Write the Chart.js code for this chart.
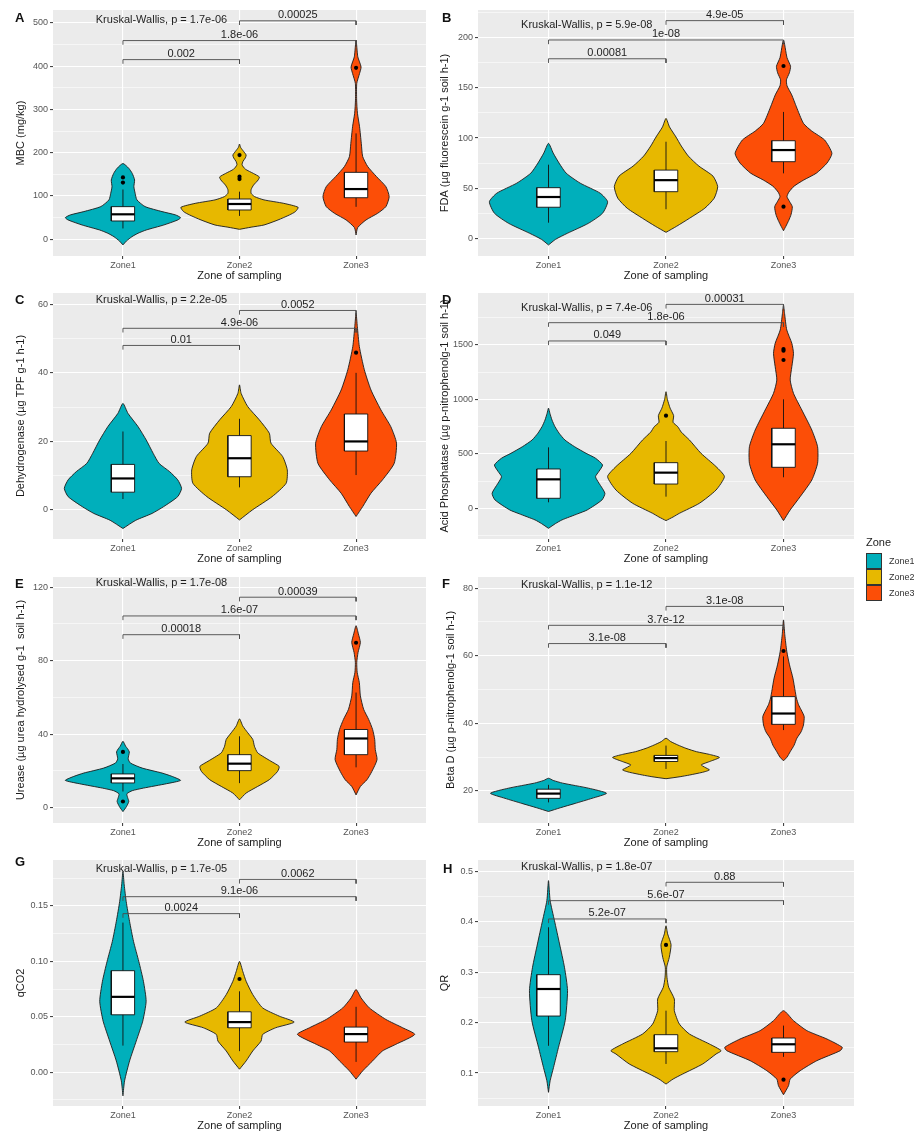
<!DOCTYPE html>
<html>
<head>
<meta charset="utf-8">
<script src="https://cdn.jsdelivr.net/npm/chart.js@4.4.1/dist/chart.umd.min.js"></script>
<style>
  body { margin: 0; background: #fff; width: 914px; height: 1137px; position: relative; overflow: hidden;
         font-family: "Liberation Sans", Arial, sans-serif; }
  canvas { position: absolute; }
  .tag { position: absolute; font-weight: bold; font-size: 13px; line-height: 13px; color: #111; }
  .legend-title { position: absolute; left: 866px; top: 536px; font-size: 11px; color: #222; }
  .key { position: absolute; left: 866px; width: 14px; height: 14px; border: 1px solid #333; }
  .key-label { position: absolute; left: 889px; font-size: 9px; color: #333; line-height: 10px; }
</style>
</head>
<body>
<div id="root"></div>
<script>
// ---------- shared ----------
const zones = ['Zone1', 'Zone2', 'Zone3'];
const zoneColors = ['#00AFBB', '#E7B800', '#FC4E07'];
const xTitle = 'Zone of sampling';

// Violin profiles: [value, half-width in zone units]; boxes: [lower whisker, Q1, median, Q3, upper whisker]
// ---------- A: MBC ----------
const mbcZone1 = [[-13,0],[-4,0.03],[6,0.077],[14,0.13],[21.5,0.2],[33,0.35],[44.6,0.47],[50,0.494],[56.4,0.45],[64,0.335],[75.5,0.19],[91,0.12],[106,0.105],[121.5,0.094],[137,0.1],[152,0.08],[164,0.05],[175,0]];
const mbcZone2 = [[23,0],[28,0.1],[33,0.21],[44.6,0.33],[56.4,0.43],[64,0.48],[73.8,0.503],[83,0.38],[91,0.21],[98.5,0.13],[106,0.1],[115,0.1],[125,0.12],[137,0.16],[144,0.17],[152,0.12],[162,0.05],[172,0.022],[180,0.03],[188,0.05],[194.6,0.057],[203,0.035],[212,0.01],[220,0]];
const mbcZone3 = [[10,0],[27,0.014],[44.6,0.085],[60,0.185],[75.5,0.256],[98.5,0.284],[121.5,0.256],[144.6,0.176],[168,0.1],[191,0.057],[221.5,0.045],[260,0.03],[291,0.012],[321.5,0.005],[360,0.006],[383,0.03],[398,0.043],[421.5,0.015],[460,0]];
const mbcBoxes = [[25,42.3,57.7,75.4,115],[54,67.7,81.5,93,110],[75,96,116,154.6,244.6]];
const mbcOutliers = [[131,143],[139,144.6,194.6],[396]];
const mbcPairs = [[2,3,504.6,'0.00025'],[1,3,459,'1.8e-06'],[1,2,415,'0.002']];
const mbcMajor = [0,100,200,300,400,500];
const mbcLabels = ['0','100','200','300','400','500'];
const mbcMinor = [50,150,250,350,450];
const mbcLimits = [-38.6, 529.6];
const mbcKruskal = ['Kruskal-Wallis, p = 1.7e-06', 0.767, 507.7];

// ---------- B: FDA ----------
const fdaZone1 = [[-6.6,0],[-1,0.06],[5,0.16],[15,0.34],[25,0.46],[36.5,0.503],[45,0.44],[55,0.27],[65,0.15],[75,0.09],[85,0.04],[94.7,0]];
const fdaZone2 = [[6,0],[12,0.09],[20,0.2],[30,0.33],[40,0.41],[51.5,0.44],[62,0.4],[72,0.28],[82,0.19],[92,0.13],[101,0.085],[111,0.03],[119.6,0]];
const fdaZone3 = [[7.6,0],[12,0.02],[18,0.045],[24,0.065],[31.5,0.075],[37,0.05],[41.5,0.03],[46,0.045],[52,0.09],[58,0.17],[65,0.28],[75,0.37],[84.7,0.412],[98,0.35],[107,0.24],[114.6,0.17],[131,0.11],[143,0.07],[152,0.03],[158,0.025],[165,0.05],[171.5,0.06],[180,0.03],[197.7,0]];
const fdaBoxes = [[15.6,31,41.2,50.5,73.4],[29,46.5,58,68,96.3],[64.8,76.4,88,97.3,126]];
const fdaOutliers = [[],[],[31.6,171.8]];
const fdaPairs = [[2,3,217,'4.9e-05'],[1,3,197.7,'1e-08'],[1,2,179,'0.00081']];
const fdaMajor = [0,50,100,150,200];
const fdaLabels = ['0','50','100','150','200'];
const fdaMinor = [25,75,125,175,225];
const fdaLimits = [-17.6, 227.6];
const fdaKruskal = ['Kruskal-Wallis, p = 5.9e-08', 0.767, 212.6];

// ---------- C: Dehydrogenase ----------
const dhZone1 = [[-5.4,0],[-3,0.11],[-1,0.25],[1,0.35],[3.9,0.47],[6.3,0.503],[8.8,0.47],[11.2,0.4],[13.6,0.31],[16.5,0.26],[20.4,0.2],[24.3,0.13],[28.2,0.043],[31.1,0]];
const dhZone2 = [[-2.9,0],[0,0.11],[3.9,0.28],[7.8,0.4],[11.7,0.41],[15.6,0.37],[19.5,0.27],[22.4,0.256],[26.3,0.17],[30.2,0.07],[34,0.014],[36.5,0]];
const dhZone3 = [[-1.9,0],[1,0.057],[4.9,0.128],[8.8,0.227],[13.6,0.327],[19.5,0.347],[24.3,0.298],[29.2,0.213],[35,0.128],[40.9,0.071],[47.7,0.028],[53.5,0.011],[57.4,0]];
const dhBoxes = [[3.2,5.2,9.2,13.3,22.9],[6.6,9.7,15.1,21.7,26.6],[10.2,17.2,20,28,40]];
const dhOutliers = [[],[],[45.9]];
const dhPairs = [[2,3,58.2,'0.0052'],[1,3,53,'4.9e-06'],[1,2,48,'0.01']];
const dhMajor = [0,20,40,60];
const dhLabels = ['0','20','40','60'];
const dhMinor = [10,30,50];
const dhLimits = [-8.46, 63.3];
const dhKruskal = ['Kruskal-Wallis, p = 2.2e-05', 0.767, 61.3];

// ---------- D: Acid phosphatase ----------
const apZone1 = [[-184,0],[-140,0.06],[-107,0.114],[-50,0.25],[-15,0.33],[76.5,0.455],[138,0.48],[230,0.43],[290,0.4],[340,0.43],[398,0.46],[460,0.4],[505,0.32],[567,0.22],[627,0.14],[690,0.09],[750,0.055],[810,0.03],[872,0.012],[920,0]];
const apZone2 = [[-113,0],[-80,0.06],[-46,0.114],[46,0.284],[168,0.426],[291,0.497],[383,0.426],[505,0.298],[627,0.2],[700,0.13],[750,0.1],[790,0.06],[851,0.065],[920,0.035],[1000,0.012],[1071,0]];
const apZone3 = [[-113,0],[-15,0.057],[107,0.142],[260,0.241],[413,0.29],[566,0.29],[719,0.241],[903,0.156],[1056,0.085],[1178,0.057],[1301,0.071],[1423,0.085],[1515,0.071],[1638,0.028],[1790,0.009],[1867,0]];
const apBoxes = [[55,92,266,361,560],[107,223,327.5,419,618],[285,376.5,588,735,1001]];
const apOutliers = [[],[851],[1362,1448,1463]];
const apPairs = [[2,3,1873,'0.00031'],[1,3,1705,'1.8e-06'],[1,2,1537,'0.049']];
const apMajor = [0,500,1000,1500];
const apLabels = ['0','500','1000','1500'];
const apMinor = [-250,250,750,1250,1750];
const apLimits = [-282, 1977.6];
const apKruskal = ['Kruskal-Wallis, p = 7.4e-06', 0.767, 1836];

// ---------- E: Urease ----------
const urZone1 = [[-2.2,0],[0.5,0.03],[3.3,0.05],[5.5,0.04],[7.5,0.034],[9.2,0.08],[10.6,0.176],[13,0.375],[14.8,0.494],[17,0.42],[18.8,0.335],[21.5,0.165],[24.2,0.065],[26.4,0.045],[28.5,0.05],[30.3,0.055],[32,0.04],[33.4,0.023],[36.1,0]];
const urZone2 = [[4.2,0],[7.9,0.057],[11.5,0.156],[15.2,0.256],[19.7,0.327],[22.4,0.34],[25.2,0.27],[29.8,0.156],[33.4,0.128],[37.1,0.114],[40.7,0.071],[44.4,0.028],[48.3,0]];
const urZone3 = [[6.9,0],[11.5,0.037],[15.2,0.094],[19.7,0.136],[26.1,0.18],[31.6,0.165],[37.1,0.16],[42.5,0.142],[48,0.108],[53.5,0.065],[60.8,0.037],[68.1,0.028],[73.5,0.01],[79,0.006],[84.4,0.017],[89.9,0.037],[94.5,0.02],[99,0]];
const urBoxes = [[8.75,13.4,15.9,18.3,23.7],[13.3,20.1,23.9,28.8,38.8],[21.9,28.8,37.6,42.5,62.6]];
const urOutliers = [[3.3,30.3],[],[89.7]];
const urPairs = [[2,3,114.5,'0.00039'],[1,3,104.3,'1.6e-07'],[1,2,94.1,'0.00018']];
const urMajor = [0,40,80,120];
const urLabels = ['0','40','80','120'];
const urMinor = [20,60,100];
const urLimits = [-8.4, 125.5];
const urKruskal = ['Kruskal-Wallis, p = 1.7e-08', 0.767, 122.2];

// ---------- F: Beta D ----------
const bdZone1 = [[13.9,0],[15,0.1],[16.3,0.227],[17.8,0.37],[19.3,0.494],[20.8,0.341],[22.3,0.12],[23.1,0.04],[23.75,0]];
const bdZone2 = [[23.6,0],[24.2,0.12],[24.7,0.2],[25.5,0.31],[26.2,0.37],[27,0.33],[27.7,0.3],[28.8,0.38],[29.9,0.455],[30.8,0.37],[31.6,0.26],[32.6,0.17],[33.6,0.1],[34.6,0.04],[35.6,0]];
const bdZone3 = [[28.9,0],[30,0.03],[31.6,0.057],[33.5,0.09],[35.6,0.114],[37.5,0.15],[39.5,0.17],[42,0.176],[44,0.15],[45.5,0.128],[47.5,0.11],[49.4,0.1],[53.4,0.08],[57.3,0.051],[61.3,0.028],[66.2,0.011],[70.6,0]];
const bdBoxes = [[16.6,17.8,19.2,20.5,21.8],[26.5,28.7,29.7,30.5,33.4],[38,39.7,42.9,47.9,59.8]];
const bdOutliers = [[],[],[61.4]];
const bdPairs = [[2,3,74.6,'3.1e-08'],[1,3,69,'3.7e-12'],[1,2,63.6,'3.1e-08']];
const bdMajor = [20,40,60,80];
const bdLabels = ['20','40','60','80'];
const bdMinor = [30,50,70];
const bdLimits = [10.5, 83.3];
const bdKruskal = ['Kruskal-Wallis, p = 1.1e-12', 0.767, 81];

// ---------- G: qCO2 ----------
const qcZone1 = [[-0.0213,0],[-0.0078,0.014],[0.0102,0.057],[0.0281,0.114],[0.0461,0.17],[0.064,0.199],[0.082,0.176],[0.1,0.136],[0.118,0.091],[0.136,0.057],[0.154,0.028],[0.169,0.011],[0.181,0]];
const qcZone2 = [[0.0027,0],[0.0102,0.057],[0.0192,0.114],[0.0281,0.185],[0.0341,0.199],[0.0401,0.31],[0.0452,0.469],[0.0506,0.341],[0.058,0.199],[0.07,0.114],[0.082,0.057],[0.091,0.028],[0.1,0]];
const qcZone3 = [[-0.0063,0],[0.0012,0.057],[0.0102,0.142],[0.0192,0.227],[0.0251,0.34],[0.0341,0.503],[0.0401,0.4],[0.0476,0.256],[0.058,0.114],[0.067,0.043],[0.0746,0]];
const qcBoxes = [[0.024,0.0518,0.068,0.0916,0.135],[0.019,0.0401,0.0452,0.0545,0.073],[0.0093,0.0272,0.0344,0.0407,0.059]];
const qcOutliers = [[],[0.0841],[]];
const qcPairs = [[2,3,0.174,'0.0062'],[1,3,0.1584,'9.1e-06'],[1,2,0.1431,'0.0024']];
const qcMajor = [0,0.05,0.1,0.15];
const qcLabels = ['0.00','0.05','0.10','0.15'];
const qcMinor = [-0.025,0.025,0.075,0.125,0.175];
const qcLimits = [-0.0305, 0.1915];
const qcKruskal = ['Kruskal-Wallis, p = 1.7e-05', 0.767, 0.183];

// ---------- H: QR ----------
const qrZone1 = [[0.0617,0],[0.0848,0.014],[0.1112,0.043],[0.151,0.085],[0.204,0.142],[0.2633,0.162],[0.3096,0.136],[0.356,0.094],[0.402,0.051],[0.4418,0.014],[0.4815,0]];
const qrZone2 = [[0.078,0],[0.088,0.06],[0.098,0.142],[0.118,0.313],[0.1377,0.426],[0.1443,0.469],[0.1575,0.37],[0.1774,0.199],[0.197,0.114],[0.2236,0.071],[0.2468,0.071],[0.27,0.023],[0.29,0.008],[0.31,0.006],[0.3294,0.028],[0.3545,0.043],[0.3757,0.014],[0.392,0]];
const qrZone3 = [[0.057,0],[0.075,0.043],[0.088,0.057],[0.1046,0.142],[0.1245,0.284],[0.1443,0.483],[0.151,0.5],[0.1674,0.37],[0.184,0.199],[0.2038,0.085],[0.2236,0]];
const qrBoxes = [[0.154,0.213,0.2666,0.295,0.389],[0.118,0.1423,0.149,0.176,0.2236],[0.132,0.141,0.157,0.1694,0.194]];
const qrOutliers = [[],[0.354],[0.0868]];
const qrPairs = [[2,3,0.4782,'0.88'],[1,3,0.4418,'5.6e-07'],[1,2,0.4055,'5.2e-07']];
const qrMajor = [0.1,0.2,0.3,0.4,0.5];
const qrLabels = ['0.1','0.2','0.3','0.4','0.5'];
const qrMinor = [0.05,0.15,0.25,0.35,0.45];
const qrLimits = [0.0346, 0.5224];
const qrKruskal = ['Kruskal-Wallis, p = 1.8e-07', 0.767, 0.508];

// ---------- panel table ----------
const panels = [
  { tag:'A', yTitle:'MBC (mg/kg)', violins:[mbcZone1,mbcZone2,mbcZone3], boxes:mbcBoxes, outliers:mbcOutliers, pairs:mbcPairs, major:mbcMajor, labels:mbcLabels, minor:mbcMinor, limits:mbcLimits, kw:mbcKruskal,
    left:0, top:0, width:430, axisW:53, padR:0, titlePad:14, tagX:15, tagY:11 },
  { tag:'B', yTitle:'FDA (µg fluorescein g-1 soil h-1)', violins:[fdaZone1,fdaZone2,fdaZone3], boxes:fdaBoxes, outliers:fdaOutliers, pairs:fdaPairs, major:fdaMajor, labels:fdaLabels, minor:fdaMinor, limits:fdaLimits, kw:fdaKruskal,
    left:430, top:0, width:440, axisW:48, padR:16, titlePad:8.4, tagX:442, tagY:11 },
  { tag:'C', yTitle:'Dehydrogenase (µg TPF g-1 h-1)', violins:[dhZone1,dhZone2,dhZone3], boxes:dhBoxes, outliers:dhOutliers, pairs:dhPairs, major:dhMajor, labels:dhLabels, minor:dhMinor, limits:dhLimits, kw:dhKruskal,
    left:0, top:283, width:430, axisW:53, padR:0, titlePad:14, tagX:15, tagY:293 },
  { tag:'D', yTitle:'Acid Phosphatase (µg p-nitrophenolg-1 soil h-1)', violins:[apZone1,apZone2,apZone3], boxes:apBoxes, outliers:apOutliers, pairs:apPairs, major:apMajor, labels:apLabels, minor:apMinor, limits:apLimits, kw:apKruskal,
    left:430, top:283, width:440, axisW:48, padR:16, titlePad:8.4, tagX:442, tagY:293 },
  { tag:'E', yTitle:'Urease (µg urea hydrolysed g-1  soil h-1)', violins:[urZone1,urZone2,urZone3], boxes:urBoxes, outliers:urOutliers, pairs:urPairs, major:urMajor, labels:urLabels, minor:urMinor, limits:urLimits, kw:urKruskal,
    left:0, top:567, width:430, axisW:53, padR:0, titlePad:14, tagX:15, tagY:577 },
  { tag:'F', yTitle:'Beta D (µg p-nitrophenolg-1 soil h-1)', violins:[bdZone1,bdZone2,bdZone3], boxes:bdBoxes, outliers:bdOutliers, pairs:bdPairs, major:bdMajor, labels:bdLabels, minor:bdMinor, limits:bdLimits, kw:bdKruskal,
    left:430, top:567, width:440, axisW:48, padR:16, titlePad:14, tagX:442, tagY:577 },
  { tag:'G', yTitle:'qCO2', violins:[qcZone1,qcZone2,qcZone3], boxes:qcBoxes, outliers:qcOutliers, pairs:qcPairs, major:qcMajor, labels:qcLabels, minor:qcMinor, limits:qcLimits, kw:qcKruskal,
    left:0, top:850, width:430, axisW:53, padR:0, titlePad:14, tagX:15, tagY:855 },
  { tag:'H', yTitle:'QR', violins:[qrZone1,qrZone2,qrZone3], boxes:qrBoxes, outliers:qrOutliers, pairs:qrPairs, major:qrMajor, labels:qrLabels, minor:qrMinor, limits:qrLimits, kw:qrKruskal,
    left:430, top:850, width:440, axisW:48, padR:16, titlePad:8.4, tagX:443, tagY:862 }
];

const FONT = '"Liberation Sans", Arial, sans-serif';
Chart.defaults.font.family = FONT;

const root = document.getElementById('root');
const BOX_HALF = 0.1;       // boxplot half width (zone units)
const CANVAS_H = 283;

function isMajor(p, v) { return p.major.some(m => Math.abs(m - v) < 1e-9); }

function buildDatasets(p) {
  const ds = [];
  const range = p.limits[1] - p.limits[0];
  const tip = 0.017 * range;
  p.violins.forEach((prof, i) => {
    const cx = i + 1;
    const right = prof.map(([v, w]) => ({ x: cx + w, y: v }));
    const left = prof.slice().reverse().map(([v, w]) => ({ x: cx - w, y: v })).slice(1);
    ds.push({ data: right.concat(left), showLine: true, fill: 'shape', backgroundColor: zoneColors[i],
      borderColor: '#1c1c1c', borderWidth: 0.9, pointRadius: 0, tension: 0.2, order: 10 });
    const [lo, q1, med, q3, hi] = p.boxes[i];
    ds.push({ data: [{x: cx, y: lo}, {x: cx, y: hi}], showLine: true, borderColor: '#111', borderWidth: 0.9, pointRadius: 0, order: 9 });
    ds.push({ data: [{x: cx - BOX_HALF, y: q1}, {x: cx + BOX_HALF, y: q1}, {x: cx + BOX_HALF, y: q3}, {x: cx - BOX_HALF, y: q3}, {x: cx - BOX_HALF, y: q1}],
      showLine: true, fill: 'shape', backgroundColor: '#ffffff', borderColor: '#111', borderWidth: 0.9, pointRadius: 0, order: 8 });
    ds.push({ data: [{x: cx - BOX_HALF, y: med}, {x: cx + BOX_HALF, y: med}], showLine: true, borderColor: '#000', borderWidth: 2.2, pointRadius: 0, order: 7 });
    ds.push({ data: p.outliers[i].map(v => ({ x: cx, y: v })), showLine: false, pointRadius: 2.1, pointBackgroundColor: '#000', pointBorderWidth: 0, order: 6 });
  });
  p.pairs.forEach(([a, b, y]) => {
    ds.push({ data: [{x: a, y: y - tip}, {x: a, y: y}, {x: b, y: y}, {x: b, y: y - tip}], showLine: true,
      borderColor: '#4a4a4a', borderWidth: 0.9, pointRadius: 0, order: 5 });
  });
  return ds;
}

function panelPlugin(p) {
  return {
    id: 'panel' + p.tag,
    beforeDraw(chart) {
      const { ctx, chartArea: a } = chart;
      ctx.save();
      ctx.fillStyle = '#EBEBEB';
      ctx.fillRect(a.left, a.top, a.right - a.left, a.bottom - a.top);
      ctx.restore();
    },
    afterDatasetsDraw(chart) {
      const { ctx } = chart;
      const xs = chart.scales.x, ys = chart.scales.y;
      ctx.save();
      ctx.font = '11px ' + FONT;
      ctx.fillStyle = '#1e1e1e';
      ctx.textAlign = 'center';
      ctx.textBaseline = 'alphabetic';
      p.pairs.forEach(([a, b, y, label]) => {
        ctx.fillText(label, xs.getPixelForValue((a + b) / 2), ys.getPixelForValue(y) - 2.5);
      });
      const [text, kx, ky] = p.kw;
      ctx.textAlign = 'left';
      ctx.textBaseline = 'middle';
      ctx.fillText(text, xs.getPixelForValue(kx), ys.getPixelForValue(ky));
      ctx.restore();
    }
  };
}

panels.forEach(p => {
  const canvas = document.createElement('canvas');
  canvas.width = p.width; canvas.height = CANVAS_H;
  canvas.style.left = p.left + 'px'; canvas.style.top = p.top + 'px';
  canvas.style.width = p.width + 'px'; canvas.style.height = CANVAS_H + 'px';
  root.appendChild(canvas);

  const tag = document.createElement('div');
  tag.className = 'tag'; tag.textContent = p.tag;
  tag.style.left = p.tagX + 'px'; tag.style.top = p.tagY + 'px';
  root.appendChild(tag);

  new Chart(canvas, {
    type: 'scatter',
    data: { datasets: buildDatasets(p) },
    plugins: [panelPlugin(p)],
    options: {
      responsive: false, animation: false, events: [],
      layout: { padding: { left: 0, top: 10, right: p.padR, bottom: 0 } },
      plugins: { legend: { display: false }, tooltip: { enabled: false } },
      scales: {
        x: {
          type: 'linear', min: 0.4, max: 3.6,
          afterBuildTicks: s => { s.ticks = zones.map((z, i) => ({ value: i + 1 })); },
          afterFit: s => { s.height = 27; },
          ticks: { callback: v => zones[Math.round(v) - 1] || '', font: { size: 9 }, color: '#555', padding: 1, autoSkip: false, maxRotation: 0 },
          grid: { color: '#ffffff', lineWidth: 1.1, tickLength: 3, tickColor: '#444' },
          border: { display: false },
          title: { display: true, text: xTitle, font: { size: 11 }, color: '#1a1a1a', padding: { top: 0, bottom: 0 } }
        },
        y: {
          type: 'linear', min: p.limits[0], max: p.limits[1],
          afterBuildTicks: s => { s.ticks = p.minor.concat(p.major).sort((a, b) => a - b).map(v => ({ value: v })); },
          afterFit: s => { s.width = p.axisW; },
          ticks: {
            callback: v => { const k = p.major.findIndex(m => Math.abs(m - v) < 1e-9); return k >= 0 ? p.labels[k] : ''; },
            font: { size: 9 }, color: '#555', padding: 2, autoSkip: false
          },
          grid: {
            color: '#ffffff',
            lineWidth: c => (c.tick && isMajor(p, c.tick.value)) ? 1.1 : 0.55,
            tickLength: 3,
            tickColor: c => (c.tick && isMajor(p, c.tick.value)) ? '#444' : 'rgba(0,0,0,0)'
          },
          border: { display: false },
          title: { display: true, text: p.yTitle, font: { size: 11 }, color: '#1a1a1a', padding: { top: p.titlePad, bottom: 0 } }
        }
      }
    }
  });
});

// ---------- legend ----------
const lt = document.createElement('div');
lt.className = 'legend-title'; lt.textContent = 'Zone';
root.appendChild(lt);
zones.forEach((z, i) => {
  const k = document.createElement('div');
  k.className = 'key'; k.style.top = (553 + 16 * i) + 'px'; k.style.background = zoneColors[i];
  root.appendChild(k);
  const l = document.createElement('div');
  l.className = 'key-label'; l.textContent = z; l.style.top = (556 + 16 * i) + 'px';
  root.appendChild(l);
});
</script>
</body>
</html>
